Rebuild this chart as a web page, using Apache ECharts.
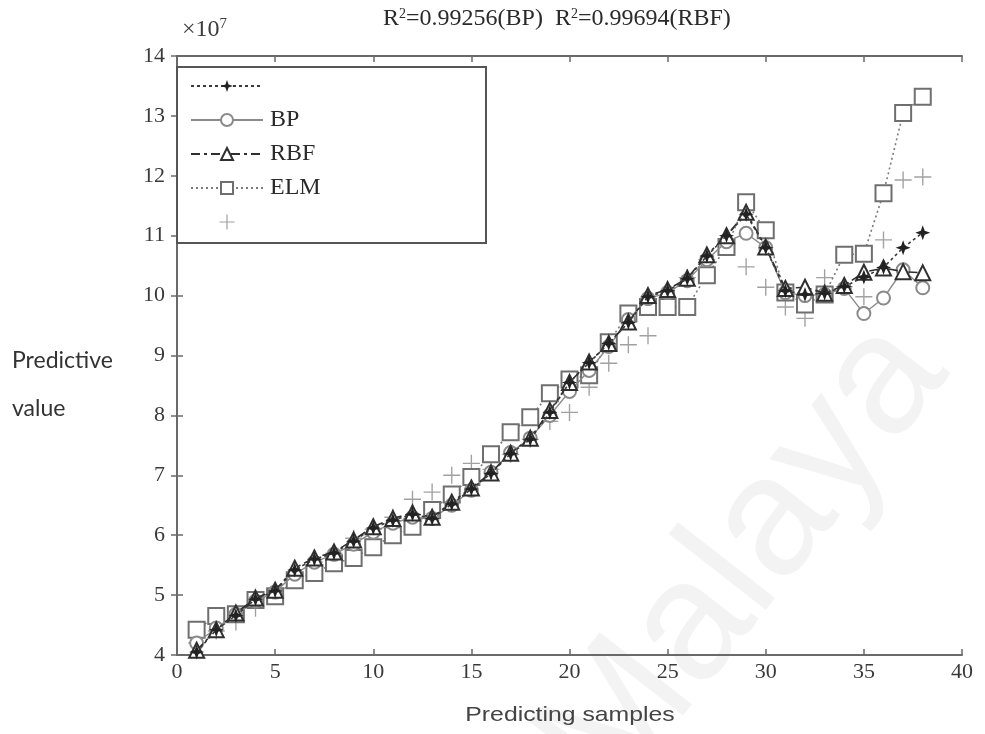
<!DOCTYPE html>
<html>
<head>
<meta charset="utf-8">
<script src="https://cdn.jsdelivr.net/npm/echarts@6/dist/echarts.min.js"></script>
<style>
  html, body { margin: 0; padding: 0; background: #fff; }
  #chart { width: 985px; height: 734px; }
</style>
</head>
<body>
<div id="chart"></div>
<script>
// Sample index 1..38
const samples = Array.from({ length: 38 }, (_, i) => i + 1);

// Values in units of 1e7
const actualValues = [4.05, 4.42, 4.66, 4.93, 5.07, 5.42, 5.60, 5.70, 5.90, 6.12,
  6.25, 6.35, 6.28, 6.52, 6.77, 7.03, 7.36, 7.60, 8.05, 8.55,
  8.88, 9.20, 9.55, 9.98, 10.08, 10.28, 10.66, 11.00, 11.36, 10.80,
  10.08, 10.02, 10.04, 10.15, 10.31, 10.47, 10.80, 11.05];

const bpValues = [4.20, 4.45, 4.68, 4.90, 5.05, 5.35, 5.55, 5.68, 5.85, 6.05,
  6.20, 6.30, 6.28, 6.50, 6.75, 7.05, 7.38, 7.62, 8.00, 8.40,
  8.75, 9.15, 9.60, 9.95, 10.05, 10.25, 10.60, 10.90, 11.04, 10.80,
  10.05, 10.00, 10.02, 10.12, 9.70, 9.96, 10.43, 10.13];

const rbfValues = [4.08, 4.42, 4.70, 4.95, 5.08, 5.45, 5.62, 5.72, 5.92, 6.14,
  6.28, 6.37, 6.30, 6.55, 6.79, 7.04, 7.37, 7.62, 8.08, 8.55,
  8.89, 9.20, 9.56, 10.00, 10.10, 10.29, 10.68, 11.00, 11.39, 10.81,
  10.12, 10.14, 10.04, 10.17, 10.39, 10.46, 10.40, 10.38];

const elmValues = [4.42, 4.65, 4.68, 4.92, 4.98, 5.25, 5.37, 5.53, 5.62, 5.80,
  6.00, 6.14, 6.42, 6.68, 6.97, 7.35, 7.72, 7.97, 8.37, 8.60,
  8.67, 9.22, 9.70, 9.81, 9.81, 9.81, 10.34, 10.81, 11.56, 11.09,
  10.05, 9.85, 10.02, 10.68, 10.70, 11.71, 13.05, 13.32];

const plusValues = [4.20, 4.40, 4.55, 4.78, 5.05, 5.35, 5.55, 5.70, 5.95, 6.10,
  6.30, 6.60, 6.72, 7.00, 7.20, 7.10, 7.35, 7.60, 7.90, 8.05,
  8.47, 8.87, 9.18, 9.33, 9.95, 10.30, 10.60, 10.85, 10.48, 10.14,
  9.81, 9.62, 10.30, 10.15, 9.98, 10.93, 11.93, 11.98];

const xTicks = { min: 0, max: 40, interval: 5 };
const yTicks = { min: 4, max: 14, interval: 1 };

const titleText = 'R{sup|2}=0.99256(BP)  R{sup|2}=0.99694(RBF)';
const seriesNames = [' ', 'BP', 'RBF', 'ELM', '  '];

const pair = vals => samples.map((s, i) => [s, vals[i]]);

const serif = '"Liberation Serif", "DejaVu Serif", serif';
const starPath = 'path://M0,-10 L2.6,-2.6 L10,0 L2.6,2.6 L0,10 L-2.6,2.6 L-10,0 L-2.6,-2.6 Z';
const plusPath = 'path://M-0.8,-10 L0.8,-10 L0.8,-0.8 L10,-0.8 L10,0.8 L0.8,0.8 L0.8,10 L-0.8,10 L-0.8,0.8 L-10,0.8 L-10,-0.8 L-0.8,-0.8 Z';

const chart = echarts.init(document.getElementById('chart'), null, { renderer: 'canvas' });

const frameLine = { show: true, lineStyle: { color: '#6a6a6a', width: 2 } };
const inTick = { show: true, inside: true, length: 6, lineStyle: { color: '#6a6a6a', width: 1.5 } };
const tickFont = { color: '#3a3a3a', fontFamily: serif, fontSize: 22 };

chart.setOption({
  animation: false,
  backgroundColor: '#fff',
  title: {
    text: titleText,
    left: 378, top: 2,
    textStyle: {
      fontFamily: serif, fontSize: 24, fontWeight: 'normal', color: '#2a2a2a',
      rich: { sup: { fontFamily: serif, fontSize: 14, color: '#2a2a2a', verticalAlign: 'top', lineHeight: 14, padding: [0, 0, 10, 0] } }
    }
  },
  grid: { left: 177, right: 23, top: 56, bottom: 79, containLabel: false },
  xAxis: [
    {
      type: 'value', min: xTicks.min, max: xTicks.max, interval: xTicks.interval,
      axisLine: frameLine, axisTick: inTick, splitLine: { show: false },
      axisLabel: Object.assign({ margin: 6 }, tickFont)
    },
    {
      type: 'value', position: 'top', min: xTicks.min, max: xTicks.max, interval: xTicks.interval,
      axisLine: frameLine, axisTick: inTick, splitLine: { show: false },
      axisLabel: { show: false }
    }
  ],
  yAxis: [
    {
      type: 'value', min: yTicks.min, max: yTicks.max, interval: yTicks.interval,
      axisLine: frameLine, axisTick: inTick, splitLine: { show: false },
      axisLabel: Object.assign({ margin: 12 }, tickFont)
    },
    {
      type: 'value', position: 'right', min: yTicks.min, max: yTicks.max, interval: yTicks.interval,
      axisLine: frameLine, axisTick: inTick, splitLine: { show: false },
      axisLabel: { show: false }
    }
  ],
  legend: {
    orient: 'vertical',
    left: 190, top: 74,
    itemWidth: 72, itemHeight: 15, itemGap: 10,
    padding: 0,
    z: 20,
    textStyle: { fontFamily: serif, fontSize: 24, color: '#2a2a2a', padding: [0, 0, 0, 2] },
    data: seriesNames
  },
  graphic: [
    {
      type: 'text', z: -10, silent: true,
      x: 745, y: 560, rotation: 52 * Math.PI / 180,
      style: {
        text: 'Malaya', fontFamily: '"Liberation Sans", Arial, sans-serif', fontSize: 170,
        fill: '#f3f3f3', align: 'center', verticalAlign: 'middle'
      }
    },
    {
      type: 'rect', z: 15, silent: true,
      shape: { x: 177, y: 67, width: 309, height: 176 },
      style: { fill: '#fff', stroke: '#555', lineWidth: 2 }
    },
    {
      type: 'text', z: 20, x: 182, y: 17,
      style: {
        text: '×10{s|7}', fontFamily: serif, fontSize: 24, fill: '#3a3a3a',
        rich: { s: { fontFamily: serif, fontSize: 15, fill: '#3a3a3a', verticalAlign: 'top', padding: [0, 0, 10, 0] } }
      }
    },
    {
      type: 'text', z: 20, x: 12, y: 349,
      style: { text: 'Predictive', fontFamily: 'Lato, "Open Sans", sans-serif', fontSize: 23, fill: '#333' }
    },
    {
      type: 'text', z: 20, x: 12, y: 397,
      style: { text: 'value', fontFamily: 'Lato, "Open Sans", sans-serif', fontSize: 23, fill: '#333' }
    },
    {
      type: 'text', z: 20, x: 570, y: 705, scaleX: 1.18, originX: 0,
      style: { text: 'Predicting samples', align: 'center', fontFamily: '"Liberation Sans", Arial, sans-serif', fontSize: 21, fill: '#444' }
    }
  ],
  series: [
    {
      name: seriesNames[0], type: 'line', data: pair(actualValues), z: 6,
      symbol: starPath, symbolSize: 15,
      itemStyle: { color: '#222' },
      lineStyle: { color: '#3a3a3a', width: 1.6, type: [3, 3] }
    },
    {
      name: seriesNames[1], type: 'line', data: pair(bpValues), z: 4,
      symbol: 'emptyCircle', symbolSize: 13,
      itemStyle: { color: '#8a8a8a', borderWidth: 1.5 },
      lineStyle: { color: '#8a8a8a', width: 1.4, type: 'solid' }
    },
    {
      name: seriesNames[2], type: 'line', data: pair(rbfValues), z: 5,
      symbol: 'emptyTriangle', symbolSize: 15,
      itemStyle: { color: '#2f2f2f', borderWidth: 2 },
      lineStyle: { color: '#2f2f2f', width: 1.6, type: [9, 4, 3, 4] }
    },
    {
      name: seriesNames[3], type: 'line', data: pair(elmValues), z: 3,
      symbol: 'emptyRect', symbolSize: 16,
      itemStyle: { color: '#6f6f6f', borderWidth: 1.6 },
      lineStyle: { color: '#7a7a7a', width: 1.6, type: [2, 3] }
    },
    {
      name: seriesNames[4], type: 'scatter', data: pair(plusValues), z: 2,
      symbol: plusPath, symbolSize: 17,
      itemStyle: { color: '#8a8a8a' }
    }
  ]
});
</script>
</body>
</html>
